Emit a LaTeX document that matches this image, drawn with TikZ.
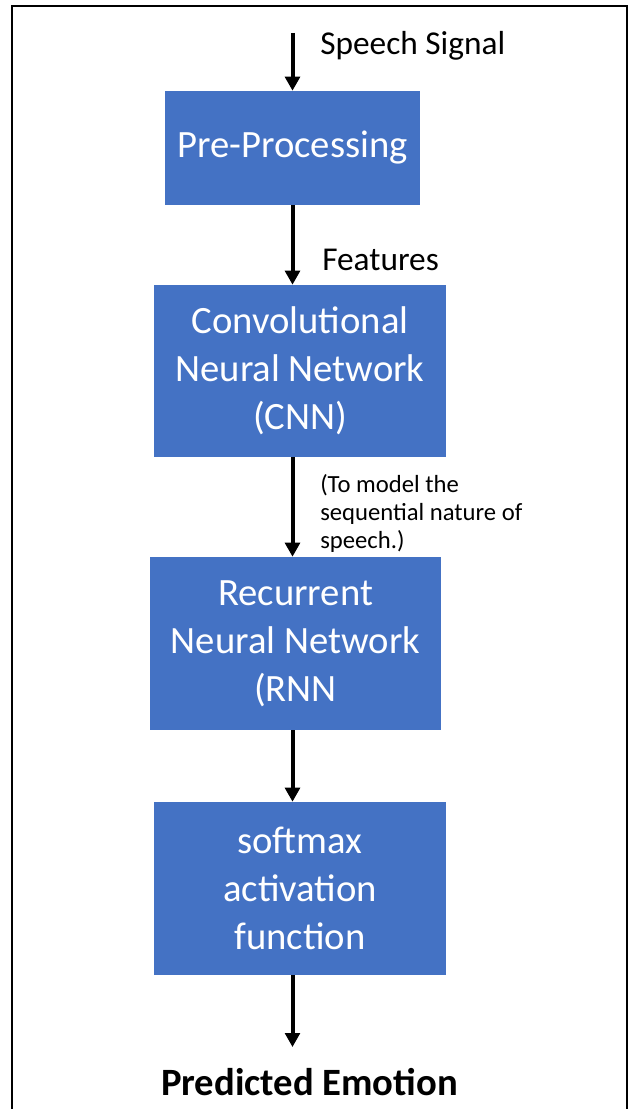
\documentclass[tikz,border=0pt]{standalone}
\usepackage{fontspec}
\setmainfont{Carlito}
\usetikzlibrary{arrows.meta}
\definecolor{boxblue}{HTML}{4472C4}
\newcommand{\blkfont}{\fontsize{29}{36}\selectfont}

\begin{document}
\begin{tikzpicture}[x=0.75pt,y=-0.75pt,
  blk/.style={fill=boxblue,text=white,inner sep=0pt,align=center,font=\blkfont},
  arr/.style={line width=3pt,-{Triangle[length=10.5pt,width=11pt]}},
  lbl/.style={anchor=base west,inner sep=0pt,align=left}]
\useasboundingbox (0,0) rectangle (630,1109);
\draw[line width=1.7pt] (12,1109) -- (12,6) -- (627,6) -- (627,1109);
% blocks
\node[blk,minimum width=191.25pt,minimum height=85.5pt] (pre) at (292.5,148) {Pre-Processing};
\node[blk,minimum width=219pt,minimum height=129pt] (cnn) at (300,371) {Convolutional\\Neural Network\\(CNN)};
\node[blk,minimum width=218.25pt,minimum height=129.75pt] (rnn) at (295.5,643.5) {Recurrent\\Neural Network\\(RNN};
\node[blk,minimum width=219pt,minimum height=129.75pt] (soft) at (300,888.5) {softmax\\activation\\function};
% labels
\node[lbl,font=\fontsize{25}{30}\selectfont] (sig) at (320,55) {Speech Signal};
\node[lbl,font=\fontsize{25}{30}\selectfont] (feat) at (322,271) {Features};
\node[lbl,font=\fontsize{18.5}{21}\selectfont] (note) at (320,548) {(To model the\\sequential nature of\\speech.)};
\node[anchor=base,inner sep=0pt,font=\blkfont\bfseries] (emo) at (309.5,1095) {Predicted Emotion};
\coordinate (in) at (292.5,33);
\coordinate (out) at (292.5,1047);
% arrows
\draw[arr] (in) -- (pre);
\foreach \a/\b in {pre/cnn,cnn/rnn,rnn/soft}
\draw[arr] (\a.south -| pre) -- (\b.north -| pre);
\draw[arr] (soft.south -| pre) -- (out);
\end{tikzpicture}
\end{document}
